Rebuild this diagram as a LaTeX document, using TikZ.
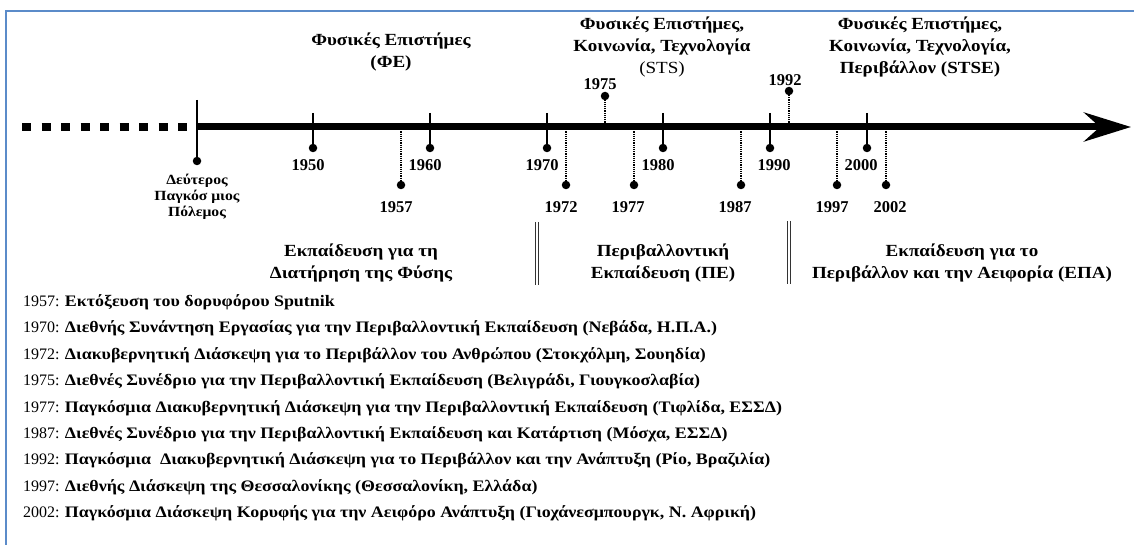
\documentclass[tikz,border=0pt]{standalone}
\usepackage{fontspec}
\setmainfont{Liberation Serif}
\newfontfamily\widegr{Liberation Serif}[FakeStretch=1.12]
\usepackage{xcolor}
\usetikzlibrary{math,arrows.meta}

\definecolor{framebl}{HTML}{5B8BC9}
\definecolor{sepgray}{HTML}{333333}

\tikzset{
	dot/.style={circle,fill=black,inner sep=0pt,minimum size=8.5pt},
	tick/.style={line width=2pt},
	dots/.style={line width=1.2pt,densely dotted},
	yr/.style={font=\fontsize{16.5}{16.5}\selectfont\bfseries,inner sep=0pt},
	head/.style={font=\widegr\fontsize{17}{22}\selectfont\bfseries,align=center,inner sep=0pt},
	period/.style={font=\widegr\fontsize{17}{21.5}\selectfont\bfseries,align=center,inner sep=0pt},
	event/.style={font=\fontsize{16}{16}\selectfont,anchor=west,inner sep=0pt,
		text height=11pt,text depth=4pt},
}

\begin{document}
\begin{tikzpicture}[x=1pt,y=-1pt]
\useasboundingbox (0,0) rectangle (1134,545);
% frame
\draw[framebl,line width=2pt] (6,545) -- (6,11) -- (1134,11);
\tikzmath{
	\ya = 127; \yt = 113; \ys = 148; \yd = 185;
	{\coordinate (w0) at (22,\ya);};
	{\coordinate (w1) at (190,\ya);};
	{\coordinate (ax0) at (197,\ya);};
	{\coordinate (ax1) at (1131,\ya);};
	{\draw[line width=8pt,dash pattern=on 9pt off 10.5pt] (w0) -- (w1);};
	{\draw[line width=7pt,-{Stealth[length=47pt,width=29pt,inset=16pt]}] (ax0) -- (ax1);};
	% start of the line
	{\coordinate (t45) at (197,100);};
	{\node[dot] (d45) at (197,161) {};};
	{\draw[tick] (t45) -- (d45.center);};
	% decades
	{\coordinate (t50) at (313,\yt);};
	{\node[dot] (d50) at (313,\ys) {};};
	{\coordinate (t60) at (430,\yt);};
	{\node[dot] (d60) at (430,\ys) {};};
	{\coordinate (t70) at (547,\yt);};
	{\node[dot] (d70) at (547,\ys) {};};
	{\coordinate (t80) at (663,\yt);};
	{\node[dot] (d80) at (663,\ys) {};};
	{\coordinate (t90) at (770,\yt);};
	{\node[dot] (d90) at (770,\ys) {};};
	{\coordinate (t00) at (867,\yt);};
	{\node[dot] (d00) at (867,\ys) {};};
	{\draw[tick] (t50) -- (d50.center) (t60) -- (d60.center) (t70) -- (d70.center);};
	{\draw[tick] (t80) -- (d80.center) (t90) -- (d90.center) (t00) -- (d00.center);};
	% events
	{\coordinate (a57) at (401,\ya);};
	{\node[dot] (d57) at (401,\yd) {};};
	{\coordinate (a72) at (566,\ya);};
	{\node[dot] (d72) at (566,\yd) {};};
	{\coordinate (a75) at (605,\ya);};
	{\node[dot] (d75) at (605,96) {};};
	{\coordinate (a77) at (634,\ya);};
	{\node[dot] (d77) at (634,\yd) {};};
	{\coordinate (a87) at (741,\ya);};
	{\node[dot] (d87) at (741,\yd) {};};
	{\coordinate (a92) at (789,\ya);};
	{\node[dot] (d92) at (789,91) {};};
	{\coordinate (a97) at (837,\ya);};
	{\node[dot] (d97) at (837,\yd) {};};
	{\coordinate (a02) at (886,\ya);};
	{\node[dot] (d02) at (886,\yd) {};};
	{\draw[dots] (a57) -- (d57) (a72) -- (d72) (a75) -- (d75) (a77) -- (d77);};
	{\draw[dots] (a87) -- (d87) (a92) -- (d92) (a97) -- (d97) (a02) -- (d02);};
	% separators
	{\coordinate (s1a) at (537,222);};
	{\coordinate (s1b) at (537,285);};
	{\coordinate (s2a) at (789,221);};
	{\coordinate (s2b) at (789,284);};
	{\draw[sepgray,line width=1.5pt,double,double distance=1.5pt] (s1a) -- (s1b) (s2a) -- (s2b);};
};
% year labels
\node[yr] (l50) at (308,165) {1950};
\node[yr] (l60) at (425,165) {1960};
\node[yr] (l70) at (542,165) {1970};
\node[yr] (l80) at (658,165) {1980};
\node[yr] (l90) at (774,165) {1990};
\node[yr] (l00) at (861,165) {2000};
\node[yr] (l57) at (396,207) {1957};
\node[yr] (l72) at (561,207) {1972};
\node[yr] (l77) at (628,207) {1977};
\node[yr] (l87) at (735,207) {1987};
\node[yr] (l97) at (832,207) {1997};
\node[yr] (l02) at (890,207) {2002};
\node[yr] (l75) at (600,84) {1975};
\node[yr] (l92) at (785,80) {1992};
\node[font=\widegr\fontsize{14}{16}\selectfont\bfseries,align=center,inner sep=0pt] (war) at (197,197) {Δεύτερος\\Παγκόσ μιος\\Πόλεμος};
% headings
\node[head] (h1) at (391,51.5) {Φυσικές Επιστήμες\\(ΦΕ)};
\node[head] (h2) at (662,47) {Φυσικές Επιστήμες,\\Κοινωνία, Τεχνολογία\\\mdseries(STS)};
\node[head] (h3) at (920,47) {Φυσικές Επιστήμες,\\Κοινωνία, Τεχνολογία,\\Περιβάλλον (STSE)};
% periods
\node[period] (p1) at (361,263) {Εκπαίδευση για τη\\Διατήρηση της Φύσης};
\node[period] (p2) at (663,263) {Περιβαλλοντική\\Εκπαίδευση (ΠΕ)};
\node[period] (p3) at (962,263) {Εκπαίδευση για το\\Περιβάλλον και την Αειφορία (ΕΠΑ)};
% list of events
\node[event] (e57) at (23,303) {1957: \textbf{\widegr Εκτόξευση του δορυφόρου Sputnik}};
\node[event] (e70) at (23,329.4) {1970: \textbf{\widegr Διεθνής Συνάντηση Εργασίας για την Περιβαλλοντική Εκπαίδευση (Νεβάδα, Η.Π.Α.)}};
\node[event] (e72) at (23,355.8) {1972: \textbf{\widegr Διακυβερνητική Διάσκεψη για το Περιβάλλον του Ανθρώπου (Στοκχόλμη, Σουηδία)}};
\node[event] (e75) at (23,382.2) {1975: \textbf{\widegr Διεθνές Συνέδριο για την Περιβαλλοντική Εκπαίδευση (Βελιγράδι, Γιουγκοσλαβία)}};
\node[event] (e77) at (23,408.6) {1977: \textbf{\widegr Παγκόσμια Διακυβερνητική Διάσκεψη για την Περιβαλλοντική Εκπαίδευση (Τιφλίδα, ΕΣΣΔ)}};
\node[event] (e87) at (23,435) {1987: \textbf{\widegr Διεθνές Συνέδριο για την Περιβαλλοντική Εκπαίδευση και Κατάρτιση (Μόσχα, ΕΣΣΔ)}};
\node[event] (e92) at (23,461.4) {1992: \textbf{\widegr Παγκόσμια \ Διακυβερνητική Διάσκεψη για το Περιβάλλον και την Ανάπτυξη (Ρίο, Βραζιλία)}};
\node[event] (e97) at (23,487.8) {1997: \textbf{\widegr Διεθνής Διάσκεψη της Θεσσαλονίκης (Θεσσαλονίκη, Ελλάδα)}};
\node[event] (e02) at (23,514.2) {2002: \textbf{\widegr Παγκόσμια Διάσκεψη Κορυφής για την Αειφόρο Ανάπτυξη (Γιοχάνεσμπουργκ, Ν. Αφρική)}};
\end{tikzpicture}
\end{document}
